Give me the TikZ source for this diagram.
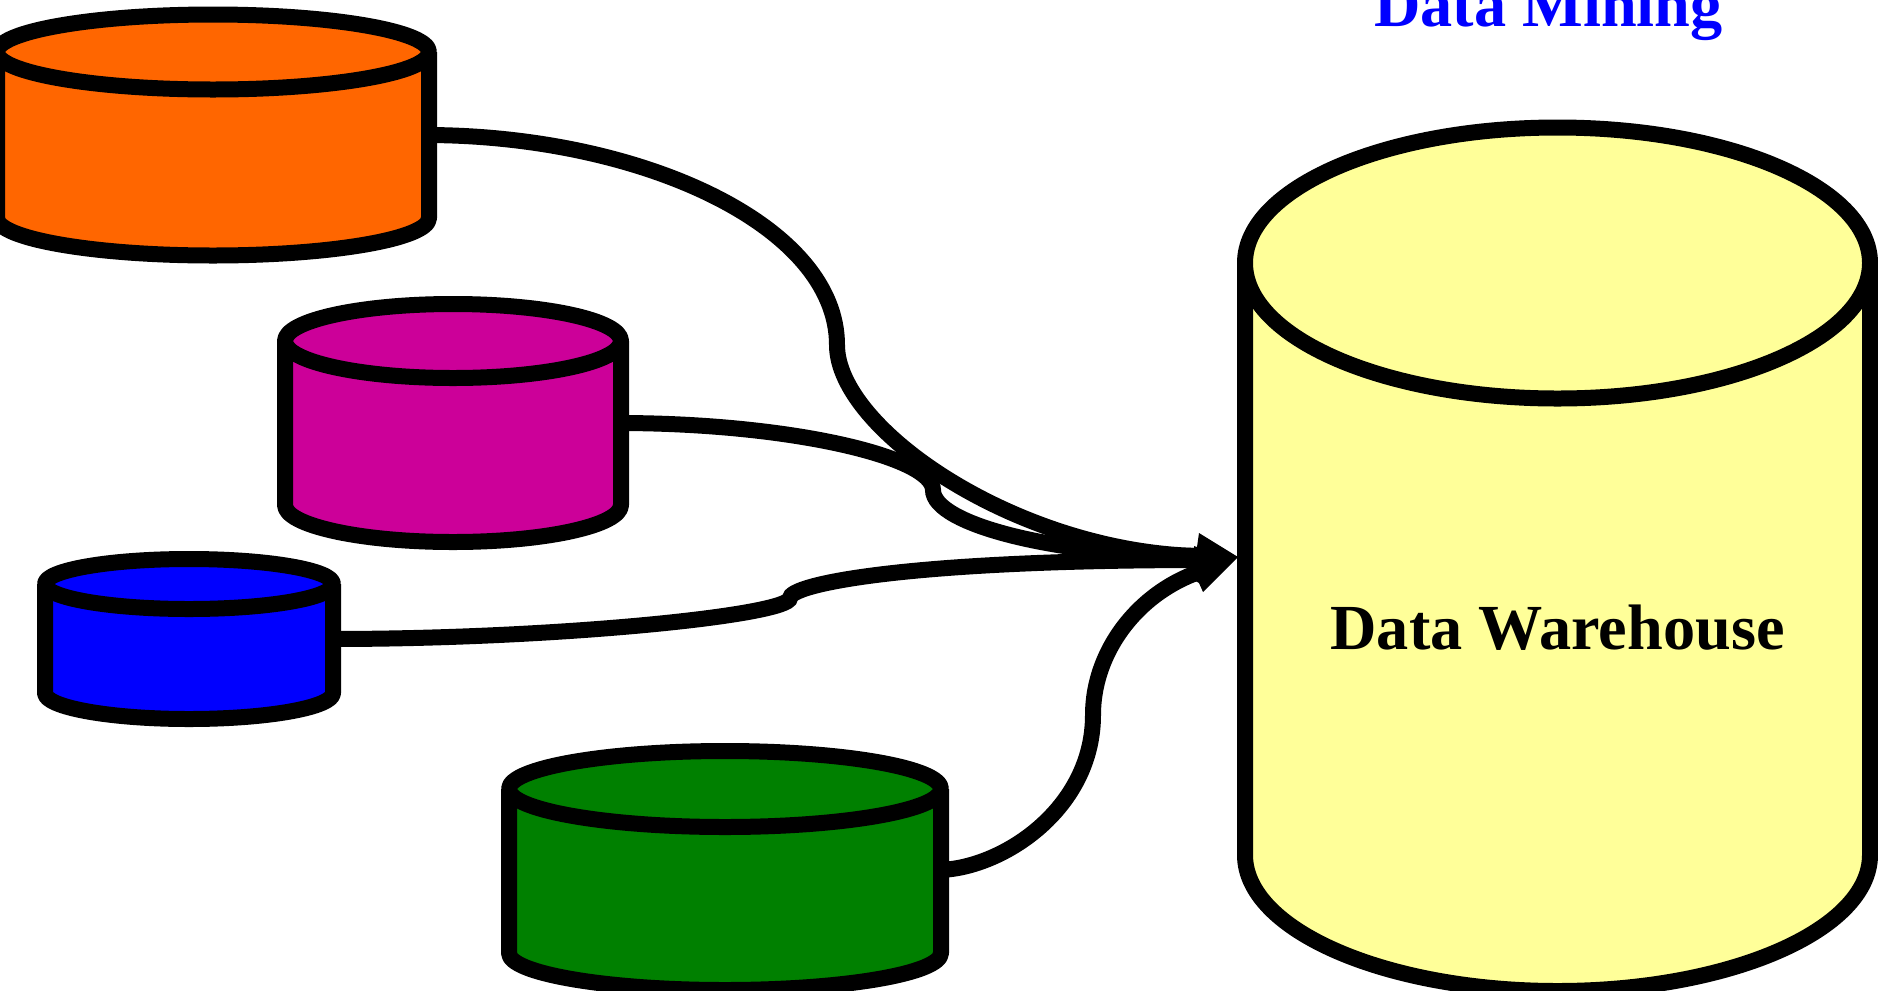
\documentclass[tikz,border=0pt]{standalone}
\usepackage{fontspec}
\setmainfont{Liberation Serif}
\tikzset{
  px/.style={x=0.75pt,y=-0.75pt},
  cylline/.style={line width=12pt,line join=round,draw=black},
  conn/.style={line width=12pt,draw=black},
  lbl/.style={font=\fontsize{48.2}{58}\selectfont\bfseries,anchor=base,inner sep=0pt},
}
\newcommand{\cyl}[7]{% left right ytop ybottom ry rybottom color
  \path[cylline,fill=#7] (#1,#3) -- (#1,#4)
     .. controls (#1,#4+0.55*#6) and ({#1+0.224*(#2-#1)},#4+#6) .. ({(#1+#2)/2},#4+#6)
     .. controls ({#2-0.224*(#2-#1)},#4+#6) and (#2,#4+0.55*#6) .. (#2,#4) -- (#2,#3);
  \path[cylline,fill=#7] ({(#1+#2)/2},#3) ellipse [x radius={(#2-#1)/2},y radius=#5];
}
\begin{document}
\begin{tikzpicture}[px]
\useasboundingbox (0,0) rectangle (1878,990);
\clip (0,0) rectangle (1878,990);
\definecolor{orng}{RGB}{255,102,0}
\definecolor{magn}{RGB}{204,0,153}
\definecolor{yel}{RGB}{255,255,153}
\definecolor{grn}{RGB}{0,128,0}
\coordinate (tip) at (1238,557);
\coordinate (o1) at (425,135);
\coordinate (o2) at (837,345);
\coordinate (m1) at (618,423);
\coordinate (m2) at (933,490);
\coordinate (b1) at (330,639);
\coordinate (b2) at (790,598);
\coordinate (g1) at (937,870);
\coordinate (g2) at (1093,715);
\coordinate (h) at (1200,556);
\coordinate (k) at (1200,556);
\coordinate (l) at (1205,560);
\coordinate (n) at (1205,570);
\draw[conn] (o1) .. controls (640,135) and (837,225) .. (o2) .. controls (837,430) and (1020,553) .. (h);
\draw[conn] (m1) .. controls (790,423) and (933,457) .. (m2) .. controls (933,525) and (1060,556) .. (k);
\draw[conn] (b1) .. controls (560,639) and (790,615) .. (b2) .. controls (790,585) and (900,560) .. (l);
\draw[conn] (g1) .. controls (1000,870) and (1093,810) .. (g2) .. controls (1093,650) and (1140,590) .. (n);
\fill[black] (tip) -- (1199,533) -- (1197,547) -- (1194,546) -- (1194,580) -- (1199,583) -- (1203,592) -- cycle;
\cyl{-3}{429}{52}{218}{37.5}{37.5}{orng}
\cyl{285}{621}{341}{505}{37}{37}{magn}
\cyl{45}{333}{584}{693}{25}{26}{blue}
\cyl{509}{941}{789}{953}{38}{37}{grn}
\cyl{1245}{1870}{263}{855}{135.5}{136}{yel}
\node[lbl] (dw) at (1557.5,649) {Data Warehouse};
\node[lbl,text=blue] (dm) at (1548.5,26) {Data Mining};
\end{tikzpicture}
\end{document}
